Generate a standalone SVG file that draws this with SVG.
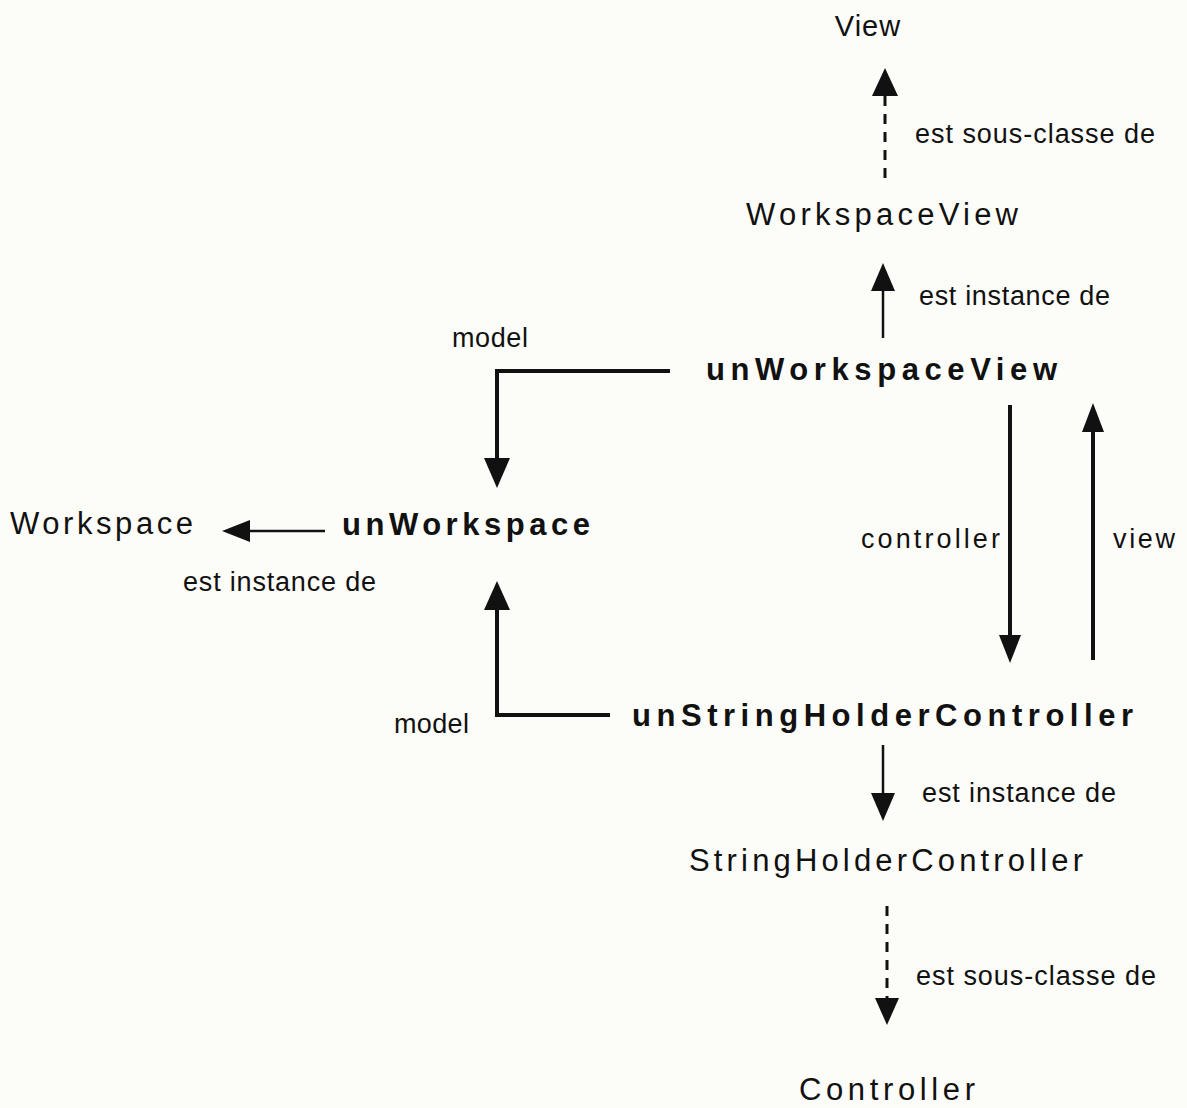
<svg xmlns="http://www.w3.org/2000/svg" width="1187" height="1108" viewBox="0 0 1187 1108">
<style>
.cls{font-family:"Liberation Sans",Arial,sans-serif;font-size:31px;fill:#111}
.obj{font-family:"Liberation Sans",Arial,sans-serif;font-size:31px;font-weight:bold;fill:#111}
.lbl{font-family:"Liberation Sans",Arial,sans-serif;font-size:27px;fill:#111}
.thick{stroke:#111;stroke-width:4;fill:none}
.thin{stroke:#111;stroke-width:2.5;fill:none}
.dash{stroke:#111;stroke-width:3;fill:none;stroke-dasharray:10,8}
</style>
<rect width="1187" height="1108" fill="#fcfcf8"/>
<g id="connectors">
<path class="dash" d="M885,178 V95"/><path d="M885,68 L872,96 L898,96 z" fill="#111"/>
<path class="thin" d="M883,338 V290"/><path d="M883,263 L871,291 L895,291 z" fill="#111"/>
<path class="thick" d="M670,371 H497 V460"/><path d="M497,488 L484,458 L510,458 z" fill="#111"/>
<path class="thin" d="M325,531 H250"/><path d="M222,531 L250,520 L250,542 z" fill="#111"/>
<path class="thick" d="M610,715 H497 V608"/><path d="M497,581 L484,610 L510,610 z" fill="#111"/>
<path class="thick" d="M1010,405 V640"/><path d="M1010,663 L999,635 L1021,635 z" fill="#111"/>
<path class="thick" d="M1093,660 V430"/><path d="M1093,403 L1082,432 L1104,432 z" fill="#111"/>
<path class="thin" d="M883,745 V795"/><path d="M883,821 L871,793 L895,793 z" fill="#111"/>
<path class="dash" d="M887,906 V1000"/><path d="M887,1025 L875,998 L899,998 z" fill="#111"/>
</g>
<g id="View"><text class="cls" x="868" y="36" text-anchor="middle" style="font-size:29px;letter-spacing:1px">View</text></g>
<g id="WorkspaceView"><text class="cls" x="746" y="225" textLength="272" lengthAdjust="spacing">WorkspaceView</text></g>
<g id="unWorkspaceView"><text class="obj" x="706" y="380" textLength="351" lengthAdjust="spacing">unWorkspaceView</text></g>
<g id="Workspace"><text class="cls" x="10" y="534" textLength="183" lengthAdjust="spacing">Workspace</text></g>
<g id="unWorkspace"><text class="obj" x="342" y="535" textLength="248" lengthAdjust="spacing">unWorkspace</text></g>
<g id="unStringHolderController"><text class="obj" x="632" y="726" textLength="501" lengthAdjust="spacing">unStringHolderController</text></g>
<g id="StringHolderController"><text class="cls" x="689" y="871" textLength="394" lengthAdjust="spacing">StringHolderController</text></g>
<g id="Controller"><text class="cls" x="799" y="1100" textLength="176" lengthAdjust="spacing">Controller</text></g>
<g id="labels">
<text class="lbl" x="915" y="143" textLength="240" lengthAdjust="spacing">est sous-classe de</text>
<text class="lbl" x="919" y="305" textLength="191" lengthAdjust="spacing">est instance de</text>
<text class="lbl" x="452" y="347" textLength="76" lengthAdjust="spacing">model</text>
<text class="lbl" x="183" y="591" textLength="193" lengthAdjust="spacing">est instance de</text>
<text class="lbl" x="394" y="733" textLength="75" lengthAdjust="spacing">model</text>
<text class="lbl" x="861" y="548" textLength="139" lengthAdjust="spacing">controller</text>
<text class="lbl" x="1113" y="548" textLength="62" lengthAdjust="spacing">view</text>
<text class="lbl" x="922" y="802" textLength="194" lengthAdjust="spacing">est instance de</text>
<text class="lbl" x="916" y="985" textLength="240" lengthAdjust="spacing">est sous-classe de</text>
</g>
</svg>
